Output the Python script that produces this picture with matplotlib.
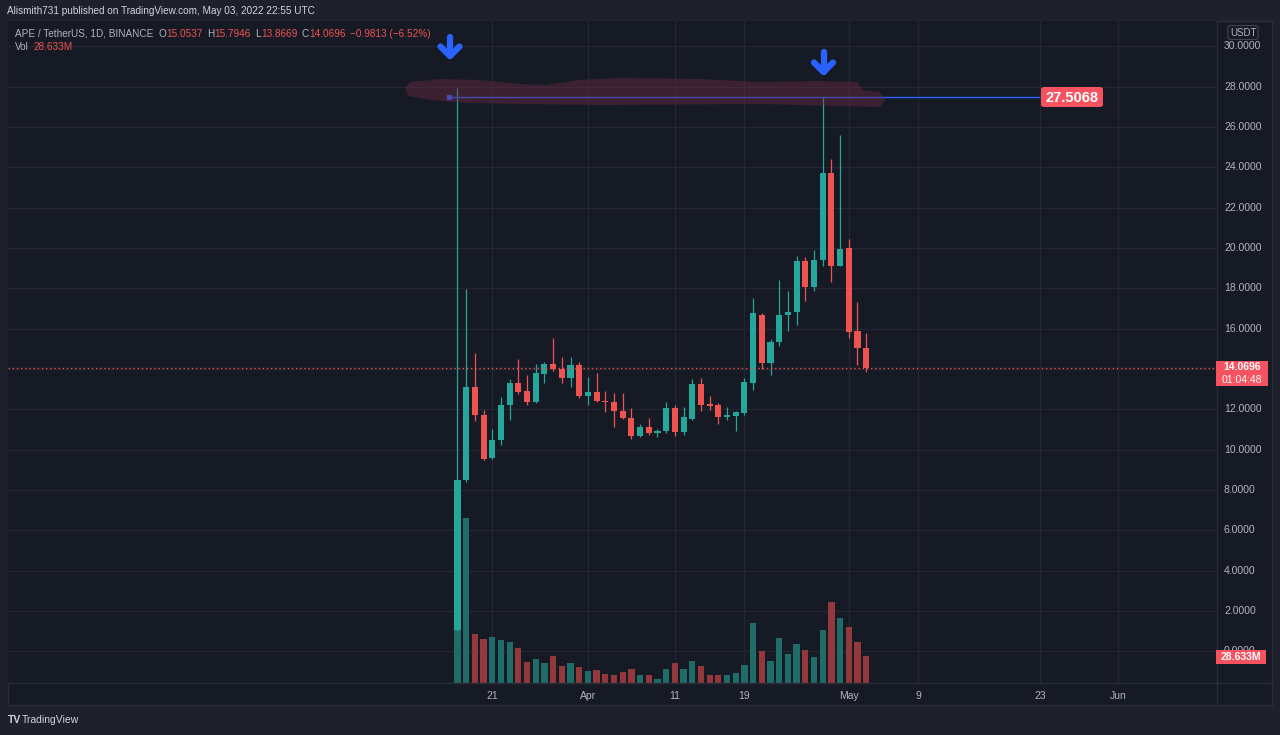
import matplotlib
matplotlib.use('Agg')
import matplotlib.pyplot as plt
import matplotlib.dates as mdates
from matplotlib.patches import Polygon, FancyBboxPatch, Rectangle
from matplotlib.lines import Line2D
import pandas as pd

# ---------------- data ----------------
start_date = '2022-03-17'
opens = [1.05, 8.50, 13.09, 11.75, 9.59, 10.47, 12.20, 13.29, 12.91, 12.36, 13.77, 14.25,
         14.00, 13.57, 14.20, 12.68, 12.85, 12.43, 12.38, 11.93, 11.60, 10.67, 11.13, 10.81,
         10.95, 12.05, 10.89, 11.55, 13.26, 12.26, 12.21, 11.63, 11.68, 11.83, 13.32, 16.69,
         14.29, 15.33, 16.66, 16.81, 19.34, 18.05, 19.39, 23.71, 19.13, 20.01, 15.90, 15.0537]
highs = [27.95, 17.97, 14.79, 11.96, 11.02, 12.60, 13.52, 14.50, 13.69, 14.25, 14.37, 15.56,
         14.62, 14.62, 14.37, 13.62, 13.79, 12.91, 12.80, 12.80, 12.05, 11.30, 11.60, 11.05,
         12.38, 12.21, 12.13, 13.52, 13.57, 12.66, 12.33, 12.10, 11.90, 13.54, 17.52, 16.78,
         15.48, 18.43, 17.89, 19.59, 19.56, 19.93, 27.5068, 24.44, 25.60, 20.46, 17.35, 15.7946]
lows = [1.00, 8.40, 11.43, 9.48, 9.55, 10.22, 11.50, 12.76, 12.23, 12.33, 13.29, 13.92,
        13.32, 13.09, 12.55, 12.21, 12.38, 11.88, 11.13, 11.55, 10.56, 10.64, 10.72, 10.64,
        10.84, 10.67, 10.72, 11.47, 11.93, 11.96, 11.27, 11.50, 10.94, 11.72, 12.96, 13.99,
        13.71, 15.16, 15.91, 16.19, 17.39, 17.85, 19.13, 18.30, 19.10, 15.53, 14.20, 13.8669]
closes = [8.52, 13.09, 11.72, 9.56, 10.51, 12.21, 13.29, 12.86, 12.36, 13.79, 14.25, 13.99,
          13.57, 14.20, 12.68, 12.85, 12.41, 12.38, 11.93, 11.58, 10.67, 11.13, 10.81, 10.95,
          12.05, 10.89, 11.63, 13.26, 12.21, 12.16, 11.63, 11.72, 11.85, 13.37, 16.78, 14.29,
          15.33, 16.69, 16.84, 19.34, 18.05, 19.43, 23.71, 19.10, 19.96, 15.86, 15.03, 14.0696]
volumes_m = [55.9, 173.4, 51.7, 46.5, 48.6, 45.4, 43.3, 37.0, 22.3, 25.5, 21.3, 28.6,
             18.1, 21.3, 17.1, 12.9, 13.9, 9.7, 9.0, 11.9, 15.0, 9.0, 9.0, 4.8,
             15.0, 21.3, 15.0, 23.4, 18.1, 9.0, 9.0, 9.0, 11.0, 18.9, 63.2, 33.9,
             23.7, 47.2, 30.7, 41.2, 34.9, 27.6, 55.9, 85.3, 68.5, 59.0, 43.3, 28.633]
tick_dates = ['2022-03-21', '2022-04-01', '2022-04-11', '2022-04-19',
              '2022-05-01', '2022-05-09', '2022-05-23', '2022-06-01']
tick_labels = ['21', 'Apr', '11', '19', 'May', '9', '23', 'Jun']
price_ticks = [0, 2, 4, 6, 8, 10, 12, 14, 16, 18, 20, 22, 24, 26, 28, 30]
last_price = 14.0696
ray_price = 27.5068
ray_start = '2022-03-16'
last_volume_label = '28.633M'
countdown = '01:04:48'
legend_title = 'APE / TetherUS, 1D, BINANCE'
ohlc_letters = ['O', 'H', 'L', 'C']
ohlc_values = ['15.0537', '15.7946', '13.8669', '14.0696']
change_text = '\u22120.9813 (\u22126.52%)'

# ---------------- style ----------------
W, H = 1280, 735
BG = '#161a25'
FRAME = '#1e212b'
BORDER = '#2a2e39'
GRID = '#242733'
UP = '#26a69a'
DN = '#ef5350'
VUP = '#1f6c69'
VDN = '#93393c'
TXT = '#b2b5be'
LBL = '#f7525f'
BLUE = '#2962ff'
plt.rcParams['font.family'] = ['Liberation Sans', 'DejaVu Sans']


def fx(x):
    return x / W


def fy(y):
    return 1 - y / H


fig = plt.figure(figsize=(12.8, 7.35), dpi=100, facecolor=FRAME)
renderer = fig.canvas.get_renderer()

# chart panel background
fig.add_artist(Rectangle((fx(8), fy(705)), fx(1272) - fx(8), fy(21) - fy(705),
                         transform=fig.transFigure, facecolor=BG, edgecolor=BORDER, lw=1, zorder=0))

L, R, T, B = 8, 1217, 21, 683.3
pos = [fx(L), fy(B), fx(R) - fx(L), fy(T) - fy(B)]

dates = pd.date_range(start_date, periods=len(opens), freq='D')
xs = mdates.date2num(dates)
d0 = xs[0]
px_per_day = 8.695
x0_px = 457.5
xlim = (d0 + (L - x0_px) / px_per_day, d0 + (R - x0_px) / px_per_day)
ylim = (-1.577, 31.26)

axg = fig.add_axes(pos, zorder=1)
axg.set_facecolor(BG)
axv = fig.add_axes(pos, zorder=2)
axv.patch.set_alpha(0)
ax = fig.add_axes(pos, zorder=3)
ax.patch.set_alpha(0)

for a in (axg, axv, ax):
    a.set_xlim(*xlim)
    for s in a.spines.values():
        s.set_visible(False)
    a.set_xticks([])
    a.set_yticks([])
axg.set_ylim(*ylim)
ax.set_ylim(*ylim)
axv.set_ylim(0, 694.6)

# grid
tick_x = mdates.date2num(pd.to_datetime(tick_dates))
for t in price_ticks:
    axg.axhline(t, color=GRID, lw=0.9)
for t in tick_x:
    axg.axvline(t, color=GRID, lw=0.9)

# volume
vcols = [VUP if c >= o else VDN for o, c in zip(opens, closes)]
axv.bar(xs, volumes_m, width=0.72, color=vcols, linewidth=0)

# candles
ccols = [UP if c >= o else DN for o, c in zip(opens, closes)]
ax.vlines(xs, lows, highs, colors=ccols, lw=0.9)
bottoms = [min(o, c) for o, c in zip(opens, closes)]
heights = [max(abs(c - o), 0.06) for o, c in zip(opens, closes)]
ax.bar(xs, heights, bottom=bottoms, width=0.7, color=ccols, linewidth=0)

# last price dotted line
ax.axhline(last_price, color=DN, lw=1.0, ls=(0, (1, 2)))

# highlight brush
brush = [(405, 88), (410, 82), (440, 79), (480, 80), (520, 84), (545, 85), (580, 80), (620, 78),
         (700, 79), (760, 82), (820, 81), (858, 82), (862, 90), (880, 92), (885, 100), (880, 107),
         (840, 106), (760, 104), (600, 105), (520, 104), (470, 103), (430, 100), (408, 96)]
fig.add_artist(Polygon([(fx(a), fy(b)) for a, b in brush], closed=True, transform=fig.transFigure,
                       facecolor='#6e2a42', alpha=0.42, edgecolor='none', zorder=4))

# horizontal ray
rs = mdates.date2num(pd.Timestamp(ray_start))
ray_end = d0 + (1040 - x0_px) / px_per_day
ax.hlines(ray_price, rs, ray_end, color=BLUE, lw=1.0, zorder=5)
ax.plot([rs], [ray_price], marker='s', ms=2.5, color=BLUE, zorder=5)
fig.add_artist(FancyBboxPatch((fx(1041), fy(107)), fx(1103) - fx(1041), fy(87) - fy(107),
                              boxstyle='round,pad=0,rounding_size=0.003', transform=fig.transFigure,
                              facecolor=LBL, edgecolor='none', zorder=6))
fig.text(fx(1072), fy(97.5), f'{ray_price:.4f}', color='white', fontsize=10.5, fontweight='bold',
         ha='center', va='center', zorder=7)

# arrows
for sx, st, sb in [(450, 37, 56), (823.5, 52, 72)]:
    fig.add_artist(Line2D([fx(sx), fx(sx)], [fy(st), fy(sb)], transform=fig.transFigure,
                          color=BLUE, lw=4.5, solid_capstyle='round', zorder=6))
    fig.add_artist(Line2D([fx(sx - 9.5), fx(sx), fx(sx + 9.5)], [fy(sb - 9.5), fy(sb), fy(sb - 9.5)],
                          transform=fig.transFigure, color=BLUE, lw=4.5, solid_capstyle='round',
                          solid_joinstyle='round', zorder=6))

# price axis labels
for t in price_ticks:
    yy = ax.transData.transform((xlim[0], t))[1]
    fig.text(fx(1224), yy / H, f'{t:.4f}', color=TXT, fontsize=7.5, ha='left', va='center')

# USDT box
fig.text(fx(1243), fy(32.5), 'USDT', color=TXT, fontsize=7, ha='center', va='center',
         bbox=dict(boxstyle='round,pad=0.2,rounding_size=0.3', facecolor=BG, edgecolor='#434651', lw=0.8))

# last price label
fig.add_artist(Rectangle((fx(1216), fy(386)), fx(1268) - fx(1216), fy(361) - fy(386),
                         transform=fig.transFigure, facecolor=LBL, edgecolor='none', zorder=6))
fig.text(fx(1242), fy(367.5), f'{last_price:.4f}', color='white', fontsize=7.5, ha='center',
         va='center', zorder=7, fontweight='bold')
fig.text(fx(1242), fy(380), countdown, color='white', fontsize=7.5, ha='center', va='center', zorder=7)

# volume label
fig.add_artist(Rectangle((fx(1216), fy(664)), fx(1266) - fx(1216), fy(650) - fy(664),
                         transform=fig.transFigure, facecolor=LBL, edgecolor='none', zorder=6))
fig.text(fx(1241), fy(657), last_volume_label, color='white', fontsize=7.5, ha='center',
         va='center', zorder=7, fontweight='bold')

# time axis labels
for t, lab in zip(tick_x, tick_labels):
    xp = ax.transData.transform((t, 0))[0]
    fig.text(xp / W, fy(696), lab, color=TXT, fontsize=7.5, ha='center', va='center')

# separators
fig.add_artist(Line2D([fx(8), fx(1272)], [fy(683.3), fy(683.3)], transform=fig.transFigure,
                      color=BORDER, lw=1, zorder=5))
fig.add_artist(Line2D([fx(1217), fx(1217)], [fy(21), fy(705)], transform=fig.transFigure,
                      color=BORDER, lw=1, zorder=5))

# header
fig.text(fx(7), fy(11.5), 'Alismith731 published on TradingView.com, May 03, 2022 22:55 UTC',
         color='#d1d4dc', fontsize=7.2, ha='left', va='center')
GRY = '#b2b5be'


def seq_text(x_px, y_px, parts, size=7.2):
    x = x_px
    for s, c, gap in parts:
        t = fig.text(fx(x), fy(y_px), s, color=c, fontsize=size, ha='left', va='center')
        x += t.get_window_extent(renderer).width + gap


parts = [(legend_title, GRY, 5)]
for letter, val in zip(ohlc_letters, ohlc_values):
    parts.append((letter, GRY, 0.5))
    parts.append((val, DN, 4))
parts.append((change_text, DN, 0))
seq_text(15, 34, parts)
seq_text(15, 46.5, [('Vol', GRY, 5), (last_volume_label, DN, 0)])

# footer
fig.text(fx(8), fy(720), 'TV', color='#d1d4dc', fontsize=7.5, fontweight='bold', ha='left', va='center')
fig.text(fx(22), fy(720), 'TradingView', color='#d1d4dc', fontsize=7.5, ha='left', va='center')

fig.savefig('out.png', dpi=100, facecolor=FRAME)
